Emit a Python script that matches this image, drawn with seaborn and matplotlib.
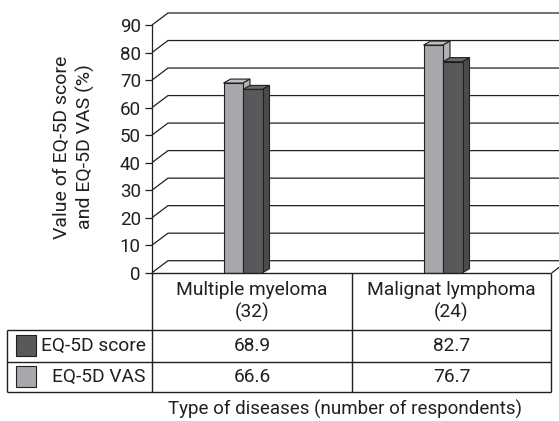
import matplotlib
matplotlib.use("Agg")
import matplotlib.pyplot as plt
from matplotlib.patches import Polygon, Rectangle
import pandas as pd
import seaborn as sns

# ---- data -------------------------------------------------------------
diseases = ["Multiple myeloma\n(32)", "Malignat lymphoma\n(24)"]
measures = ["EQ-5D score", "EQ-5D VAS"]
eq5d_score = [68.9, 82.7]
eq5d_vas = [66.6, 76.7]
y_ticks = [0, 10, 20, 30, 40, 50, 60, 70, 80, 90]

df = pd.DataFrame({
    "disease": diseases * 2,
    "measure": [measures[0]] * len(diseases) + [measures[1]] * len(diseases),
    "value": eq5d_score + eq5d_vas,
})

# ---- style ------------------------------------------------------------
sns.set_theme(style="white")
plt.rcParams["font.family"] = ["Roboto", "DejaVu Sans"]
INK = "#231f20"
LIGHT, DARK = "#a7a8ab", "#58595b"
face_shades = {
    LIGHT: ("#bebfc1", "#b2b3b5"),   # (top, side)
    DARK: ("#69696b", "#4a4b4d"),
}
TABLE_FS = 13.8

W, H = 559, 421
fig = plt.figure(figsize=(W / 100, H / 100), dpi=100)


def fx(px):
    return px / W


def fy(py):
    return 1 - py / H


# plot region (front plane) in pixels
X0, X1 = 152, 552
Y0, Y90 = 272.7, 25
ax = fig.add_axes([fx(X0), fy(Y0), (X1 - X0) / W, (Y0 - Y90) / H])
ax.set_facecolor("none")

sns.barplot(data=df, x="disease", y="value", hue="measure",
            order=diseases, hue_order=measures,
            palette={measures[0]: LIGHT, measures[1]: DARK},
            saturation=1, width=0.195, edgecolor=INK, linewidth=0.8,
            legend=False, ax=ax)

ax.set_xlim(-0.5, len(diseases) - 0.5)
ax.set_ylim(0, 90)

# depth of the back wall and of the bars, in data units
px_per_cat = (X1 - X0) / len(diseases)
px_per_val = (Y0 - Y90) / 90
wall_dx, wall_dy = 16 / px_per_cat, 12 / px_per_val
bar_dx, bar_dy = 7 / px_per_cat, 4 / px_per_val
shift = -9 / px_per_cat

# back wall gridlines with their side-wall diagonals
xl, xr = ax.get_xlim()
for v in y_ticks:
    ax.plot([xl, xl + wall_dx, xr + wall_dx + 0.2], [v, v + wall_dy, v + wall_dy],
            color=INK, lw=0.9, clip_on=False, zorder=1, solid_capstyle="butt")
# right edge of the floor
ax.plot([xr, xr + wall_dx], [0, wall_dy], color=INK, lw=0.9, clip_on=False, zorder=1)

# give the bars their top and side faces
for level, container in enumerate(ax.containers):
    z = 3 + level
    for bar in container:
        bar.set_x(bar.get_x() + shift)
        bar.set_zorder(z)
        x, w, h = bar.get_x(), bar.get_width(), bar.get_height()
        top_c, side_c = face_shades[LIGHT if level == 0 else DARK]
        top = Polygon([(x, h), (x + bar_dx, h + bar_dy), (x + w + bar_dx, h + bar_dy), (x + w, h)],
                      closed=True, facecolor=top_c, edgecolor=INK, lw=0.8,
                      zorder=z - 0.1, clip_on=False)
        side = Polygon([(x + w, 0), (x + w + bar_dx, bar_dy), (x + w + bar_dx, h + bar_dy), (x + w, h)],
                       closed=True, facecolor=side_c, edgecolor=INK, lw=0.8,
                       zorder=z - 0.1, clip_on=False)
        ax.add_patch(top)
        ax.add_patch(side)

for s in ("top", "right", "bottom"):
    ax.spines[s].set_visible(False)
ax.spines["left"].set_color(INK)
ax.spines["left"].set_linewidth(0.9)
ax.set_xticks([])
ax.set_yticks(y_ticks)
ax.set_yticklabels([str(t) for t in y_ticks])
ax.tick_params(axis="y", direction="out", length=5, width=0.9, color=INK,
               labelsize=13.5, labelcolor=INK, pad=3, left=True)
ax.set_xlabel("")
ax.set_ylabel("")

fig.text(fx(74), fy(147), "Value of EQ-5D score\nand EQ-5D VAS (%)", rotation=90,
         ha="center", va="center", fontsize=14, color=INK, linespacing=1.35)

# ---- data table under the chart ---------------------------------------
tab = fig.add_axes([0, 0, 1, 1])
tab.set_xlim(0, W)
tab.set_ylim(H, 0)
tab.axis("off")

col_edges = [7, 152, 352, 551]
row_edges = [272.7, 330, 361.7, 392]
lw = 1.0
tab.hlines(row_edges[0], col_edges[1], col_edges[-1], color=INK, lw=lw)
tab.hlines(row_edges[1:], col_edges[0], col_edges[-1], color=INK, lw=lw)
tab.vlines(col_edges[0], row_edges[1], row_edges[-1], color=INK, lw=lw)
tab.vlines(col_edges[1:], row_edges[0], row_edges[-1], color=INK, lw=lw)

col_centers = [(col_edges[i] + col_edges[i + 1]) / 2 for i in range(1, len(col_edges) - 1)]
head_y = (row_edges[0] + row_edges[1]) / 2
for cx, name in zip(col_centers, diseases):
    tab.text(cx, head_y, name, ha="center", va="center", fontsize=TABLE_FS,
             color=INK, linespacing=1.3)

swatches = [DARK, LIGHT]
rows = [eq5d_score, eq5d_vas]
for i, (label, vals, sw) in enumerate(zip(measures, rows, swatches)):
    top_y, bot_y = row_edges[i + 1], row_edges[i + 2]
    cy = (top_y + bot_y) / 2
    tab.add_patch(Rectangle((16, cy - 10.5), 20, 21, facecolor=sw,
                            edgecolor=INK, lw=0.8))
    tab.text(146, cy, label, ha="right", va="center", fontsize=TABLE_FS, color=INK)
    for cx, v in zip(col_centers, vals):
        tab.text(cx, cy, f"{v:.1f}", ha="center", va="center", fontsize=TABLE_FS, color=INK)

fig.text(fx(345), fy(409), "Type of diseases (number of respondents)",
         ha="center", va="center", fontsize=13.5, color=INK)

fig.savefig("out.png", dpi=100)
